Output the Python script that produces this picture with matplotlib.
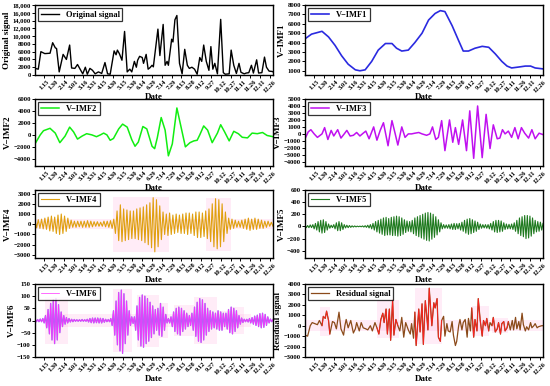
import matplotlib
matplotlib.use("Agg")
import matplotlib.pyplot as plt
import numpy as np

plt.rcParams['font.family'] = ['Liberation Serif', 'DejaVu Serif']
plt.rcParams['font.weight'] = 'bold'
plt.rcParams['axes.labelweight'] = 'bold'

# ── x axis: day of year, a tick label every 15 days ──
tick_days = list(range(14, 365, 15))
tick_labels = ["1.15", "1.30", "2.14", "3.01", "3.16", "3.31", "4.15", "4.30",
               "5.15", "5.30", "6.14", "6.29", "7.14", "7.29", "8.13", "8.28",
               "9.12", "9.27", "10.12", "10.27", "11.11", "11.26", "12.11", "12.26"]

# ── Original signal ──
orig_days = [0, 5, 9, 15, 23, 27, 31, 33, 37, 43, 48, 53, 56, 61, 65, 69, 73, 77, 80, 84,
             88, 92, 97, 102, 107, 111, 115, 121, 124, 126, 129, 133, 137, 141, 145, 148,
             152, 155, 157, 160, 164, 166, 170, 173, 176, 179, 181, 188, 191, 196, 199, 202,
             204, 209, 211, 214, 217, 221, 225, 229, 233, 236, 240, 244, 248, 252, 255, 258,
             262, 266, 269, 272, 275, 279, 284, 288, 291, 297, 300, 304, 308, 312, 315, 320,
             323, 327, 331, 334, 339, 342, 347, 351, 354, 358, 363, 364]
orig_vals = [1700, 1500, 6000, 5500, 5600, 8300, 7000, 6800, 800, 5300, 4000, 7700, 1800,
             1700, 2700, 1500, 300, 2000, 200, 1700, 1200, 300, 800, 400, 3200, 300, 200,
             6200, 5200, 6400, 5500, 3800, 11200, 800, 1500, 800, 3500, 2000, 3800, 4800,
             4500, 3000, 5300, 1500, 1900, 2500, 2100, 11800, 5000, 13000, 2500, 3500, 2500,
             9200, 8500, 14200, 15300, 3000, 300, 6600, 2500, 1700, 2000, 1500, 200, 4500,
             3500, 7700, 3500, 1200, 7300, 1500, 3000, 300, 14300, 600, 200, 300, 6400, 2500,
             400, 3000, 700, 300, 500, 600, 2500, 500, 3900, 500, 600, 4600, 2000, 1000, 900,
             800]

# ── V-IMF1 ──
imf1_days = [0, 10, 26, 36, 46, 56, 66, 77, 84, 92, 102, 112, 123, 133, 140, 148, 158, 168,
             179, 189, 199, 207, 214, 225, 235, 242, 250, 260, 271, 281, 291, 301, 309, 316,
             327, 337, 345, 352, 364]
imf1_vals = [4400, 4900, 5200, 4600, 3700, 2600, 1700, 1100, 1000, 1100, 2000, 3200, 3900,
             3900, 3400, 3100, 3200, 4000, 5000, 6400, 7100, 7400, 7300, 5800, 4200, 3100,
             3100, 3400, 3600, 3500, 2800, 2000, 1500, 1300, 1400, 1500, 1500, 1300, 1200]

# ── V-IMF2 ──
imf2_days = [0, 8, 13, 23, 31, 38, 46, 53, 59, 65, 72, 79, 87, 94, 100, 105, 110, 115, 120,
             128, 134, 141, 148, 153, 158, 165, 171, 179, 183, 187, 193, 199, 204, 210, 217,
             222, 230, 237, 243, 248, 252, 258, 264, 271, 279, 284, 290, 297, 304, 311, 317,
             325, 332, 340, 348, 355, 364]
imf2_vals = [-1500, 0, 700, 1100, 300, -1300, -200, 1300, 500, -700, -200, 200, 0, -300, 0,
             300, 0, -900, -600, 1000, 1800, 1300, -800, -1900, -1200, 1400, 1000, -1900,
             -2300, -500, 2900, 800, -3500, -1500, 4500, 2000, -2000, -1300, -1000, -900, 0,
             1500, 800, -1300, 300, 1700, 500, -1000, 600, 200, -400, -500, 300, 200, 400,
             -100, -300]

# ── V-IMF3 ──
imf3_days = [0, 5, 9, 14, 19, 26, 30, 35, 40, 44, 50, 55, 60, 64, 69, 74, 79, 84, 89, 93,
             98, 105, 110, 115, 120, 127, 133, 138, 142, 148, 153, 158, 163, 168, 174, 179,
             186, 191, 195, 200, 204, 209, 214, 221, 226, 230, 235, 241, 247, 252, 258, 264,
             271, 277, 283, 288, 294, 298, 302, 306, 311, 316, 321, 326, 331, 336, 342, 347,
             352, 358, 364]
imf3_vals = [-700, 300, 600, 0, -500, 0, 900, -800, 500, -300, 600, -600, 0, 500, -300, -200,
             200, -300, 100, 400, -700, 1000, -900, 500, 1600, -1700, 1900, 0, -1600, 1000,
             -500, 0, 0, 100, 200, 0, -200, 0, 1000, -800, -500, 1900, -2400, 2000, -1200,
             900, -1500, 2000, -2400, 3300, -3500, 4000, -3400, 2800, -2100, 1300, -700, -600,
             600, 0, 400, -500, 900, -700, 900, 100, -600, 600, -700, 100, -100]

# ── V-IMF4 (one extremum every ~2.5 days) ──
imf4_vals = [400, -350, 450, -400, 500, -450, 600, -500, 700, -650,
             800, -700, 700, -900, 900, -1000, 1000, -900, 800, -700,
             600, -400, 400, -300, 300, -300, 300, -250, 300, -300,
             300, -300, 350, -300, 300, -250, 250, -200, 250, -200,
             200, -200, 300, -250, 300, -300, 350, -400, 500, -900,
             1300, -1600, 1900, -1700, 1500, -1600, 1400, -1500, 1300, -1400,
             1300, -1400, 1500, -1500, 1600, -1600, 1700, -1800, 1900, -2000,
             2100, -2300, 2600, -2700, 2400, -2200, 1800, -1500, 1200, -1000,
             1000, -1100, 1100, -1000, 900, -900, 1000, -800, 900, -900,
             1000, -900, 1100, -1000, 1100, -900, 1000, -1100, 1200, -1300,
             1200, -1300, 1100, -1200, 1300, -1400, 1500, -1700, 2000, -2200,
             2500, -2400, 2400, -2200, 2000, -1700, 1200, -900, 600, -500,
             500, -400, 400, -300, 300, -300, 400, -400, 500, -500,
             600, -600, 500, -500, 600, -500, 500, -400, 400, -400,
             300, -300, 300, -200, 200, -200]

# ── V-IMF5 (one extremum every ~2 days) ──
imf5_vals = [20, -20, 15, -20, 25, -20, 30, -40, 50, -60,
             80, -90, 100, -110, 110, -100, 80, -60, 40, -30,
             20, -20, 30, -40, 60, -70, 80, -70, 60, -50,
             30, -25, 20, -20, 15, -15, 10, -10, 8, -8,
             5, -5, 5, -6, 8, -10, 12, -15, 20, -25,
             30, -40, 50, -60, 80, -90, 100, -110, 120, -130,
             140, -150, 150, -140, 130, -140, 150, -150, 160, -150,
             170, -160, 160, -150, 140, -130, 110, -100, 90, -80,
             80, -90, 100, -120, 140, -150, 160, -170, 180, -190,
             200, -210, 220, -230, 230, -240, 220, -210, 200, -180,
             160, -140, 110, -90, 60, -40, 30, -30, 25, -30,
             30, -40, 40, -50, 50, -50, 45, -40, 50, -60,
             70, -80, 100, -110, 120, -130, 130, -120, 110, -100,
             90, -80, 70, -50, 40, -30, 30, -25, 30, -30,
             30, -40, 50, -60, 80, -90, 100, -100, 100, -90,
             90, -80, 60, -50, 40, -40, 35, -40, 40, -50,
             60, -80, 100, -120, 140, -150, 160, -170, 180, -200,
             180, -190, 170, -160, 140, -120, 100, -90, 80, -80,
             70, -60, 50]

# ── V-IMF6 (one extremum every ~2 days) ──
imf6_vals = [5, -5, 4, -5, 6, -5, 8, -10, 20, -30,
             45, -55, 70, -80, 85, -95, 90, -80, 65, -50,
             35, -25, 20, -15, 12, -10, 8, -6, 5, -5,
             4, -3, 3, -3, 3, -3, 4, -3, 3, -3,
             5, -6, 8, -9, 10, -10, 10, -9, 10, -10,
             9, -10, 8, -7, 5, -5, 4, -5, 8, -20,
             40, -60, 80, -100, 115, -125, 125, -135, 110, -95,
             80, -60, 40, -20, 15, -12, 15, -40, 60, -80,
             95, -105, 105, -110, 100, -95, 90, -85, 75, -70,
             60, -55, 45, -40, 50, -60, 70, -65, 55, -40,
             25, -10, 8, -10, 15, -25, 35, -45, 50, -55,
             55, -60, 50, -45, 40, -35, 30, -25, 20, -20,
             30, -40, 55, -65, 75, -85, 90, -90, 85, -80,
             70, -60, 50, -45, 40, -35, 35, -30, 30, -35,
             40, -40, 35, -40, 30, -25, 30, -35, 45, -50,
             55, -55, 50, -45, 40, -30, 20, -15, 10, -8,
             5, -5, 5, -6, 8, -10, 12, -15, 18, -20,
             22, -25, 28, -30, 30, -28, 25, -20, 15, -10,
             6, -5, 4]

# ── Residual signal ──
res_days = [0, 4, 8, 11, 15, 19, 22, 26, 28, 31, 33, 36, 38, 42, 45, 48, 52, 55, 59, 61,
            63, 66, 70, 74, 77, 79, 83, 86, 89, 93, 96, 100, 103, 107, 110, 113, 116, 119,
            121, 124, 126, 129, 131, 134, 136, 139, 142, 145, 148, 151, 154, 158, 161, 163,
            166, 168, 170, 174, 176, 179, 181, 184, 186, 188, 190, 194, 197, 199, 202, 204,
            207, 209, 212, 214, 217, 219, 222, 225, 227, 230, 232, 235, 237, 240, 242, 245,
            248, 250, 253, 255, 258, 260, 263, 265, 268, 271, 273, 276, 278, 281, 283, 286,
            288, 291, 294, 296, 299, 301, 304, 306, 309, 311, 314, 317, 319, 322, 324, 327,
            329, 332, 334, 337, 339, 342, 345, 347, 350, 352, 355, 357, 362, 364]
res_vals = [-900, -1000, 0, 300, 200, 100, 500, 0, 900, 700, 1400, 500, -800, 400, 300, -300,
            1300, -300, -900, 0, 600, -200, 500, -700, -300, 300, -500, 300, -200, -300, -400,
            0, -500, 300, -200, -800, 600, 1200, 300, 1600, -800, 1600, -1400, 2500, -900, 600,
            0, -500, 800, -1100, 300, -400, -800, 200, -1200, 1300, -1900, 1600, -600, 2100,
            -1800, 2400, 1100, -400, 3600, 0, 2200, 1700, 2600, -1100, -1500, 500, 900, -1000,
            200, -500, -600, 400, -900, -1900, -1500, 0, 600, -400, 300, 600, -1100, 700,
            -500, 1700, -1100, 600, -500, 2600, 500, -1000, 500, 0, 700, -500, 300, 0, 800,
            -600, -300, 300, -800, 200, 400, -500, -200, 400, -400, 500, -400, 800, -300, 400,
            -400, 1200, 100, -500, -100, -400, 300, -200, 0, 200, -200, -100, 0, 0]

# pink highlight blocks: (start day, end day, low, high)
imf4_spans = [(0, 120, -500, 500), (120, 205, -2700, 2700), (205, 262, -500, 500),
              (262, 300, -2600, 2600), (300, 364, -500, 500)]
imf6_spans = [(15, 330, -25, 25), (15, 51, -95, 95), (120, 148, -130, 130),
              (156, 190, -110, 105), (190, 204, -70, 70), (212, 243, -65, 65),
              (243, 279, -95, 95), (279, 300, -40, 40), (300, 320, -55, 55)]
res_spans = [(0, 364, -500, 500), (23, 38, -1000, 1750), (110, 143, -1200, 2500),
             (168, 209, -1800, 3600), (255, 281, -1000, 1900), (286, 311, -700, 700)]

W, H = 550, 386
fig = plt.figure(figsize=(5.5, 3.86), dpi=100)
cols = [35, 305]
rows = [(5, 75), (99, 166), (190, 258), (284, 357)]
axw = 238


def make_ax(r, c):
    top, bot = rows[r]
    return fig.add_axes([cols[c] / W, 1 - bot / H, axw / W, (bot - top) / H])


def style(ax, ylabel, ylim, yticks, yticklabels=None):
    ax.set_xlim(0, 364)
    ax.set_ylim(*ylim)
    ax.set_xticks(tick_days)
    ax.set_xticklabels(tick_labels, rotation=45, ha='center', fontsize=4.8)
    ax.set_yticks(yticks)
    if yticklabels is not None:
        ax.set_yticklabels(yticklabels)
    ax.tick_params(axis='both', direction='out', length=2, width=0.7, pad=1)
    ax.tick_params(axis='y', labelsize=4.8)
    ax.set_xlabel("Date", fontsize=6.5, labelpad=0)
    ax.set_ylabel(ylabel, fontsize=6.5, labelpad=1)
    for s in ax.spines.values():
        s.set_linewidth(1.0)
    leg = ax.legend(loc='upper left', fontsize=6, frameon=True, fancybox=False,
                    handlelength=2.2, borderpad=0.3, borderaxespad=0.4)
    leg.get_frame().set_edgecolor('black')
    leg.get_frame().set_linewidth(0.9)


def shade(ax, spans):
    for a, b, lo, hi in spans:
        ax.fill_between([a, b], lo, hi, color='#ff9ad8', alpha=0.18, lw=0)


# Original
ax = make_ax(0, 0)
ax.plot(orig_days, orig_vals, color='black', lw=1.0, label='Original signal')
style(ax, 'Original signal', (0, 18000), range(0, 18001, 2000),
      ['0', '2000', '4000', '6000', '8000', '10,000', '12,000', '14,000', '16,000', '18,000'])

# IMF1
ax = make_ax(0, 1)
ax.plot(imf1_days, imf1_vals, color='#2a2ae0', lw=1.2, label='V−IMF1')
style(ax, 'V−IMF1', (550, 8000), range(1000, 8001, 1000))

# IMF2
ax = make_ax(1, 0)
ax.plot(imf2_days, imf2_vals, color='#11ee11', lw=1.1, label='V−IMF2')
style(ax, 'V−IMF2', (-5200, 6000), range(-4000, 6001, 2000))

# IMF3
ax = make_ax(1, 1)
ax.plot(imf3_days, imf3_vals, color='#c010f0', lw=1.1, label='V−IMF3')
style(ax, 'V−IMF3', (-4600, 5000), range(-4000, 5001, 1000))

# IMF4
ax = make_ax(2, 0)
shade(ax, imf4_spans)
ax.plot(np.linspace(0, 364, len(imf4_vals)), imf4_vals, color='#e0a010', lw=0.8,
        label='V−IMF4')
style(ax, 'V−IMF4', (-3300, 3350), range(-3000, 3001, 1000))

# IMF5
ax = make_ax(2, 1)
ax.plot(np.linspace(0, 364, len(imf5_vals)), imf5_vals, color='#1f7a1f', lw=0.8,
        label='V−IMF5')
style(ax, 'V−IMF5', (-520, 600), range(-400, 601, 200))

# IMF6
ax = make_ax(3, 0)
shade(ax, imf6_spans)
x6 = np.linspace(0, 364, len(imf6_vals))
ax.plot(x6, imf6_vals, color='#9a70f0', lw=1.0)
ax.plot(x6, imf6_vals, color='#ff30ff', lw=0.5, label='V−IMF6')
style(ax, 'V−IMF6', (-150, 150), range(-150, 151, 50))

# Residual
ax = make_ax(3, 1)
shade(ax, res_spans)
ax.plot(res_days, res_vals, color='#8b4a1a', lw=0.9, label='Residual signal')
rd = np.array(res_days)
rv = np.array(res_vals)
for a, b, lo, hi in res_spans[1:]:
    m = (rd >= a) & (rd <= b)
    ax.plot(rd[m], rv[m], color='#ff2020', lw=0.6)
style(ax, 'Residual signal', (-3000, 4000), range(-3000, 4001, 1000))

plt.savefig("out.png", dpi=100)
